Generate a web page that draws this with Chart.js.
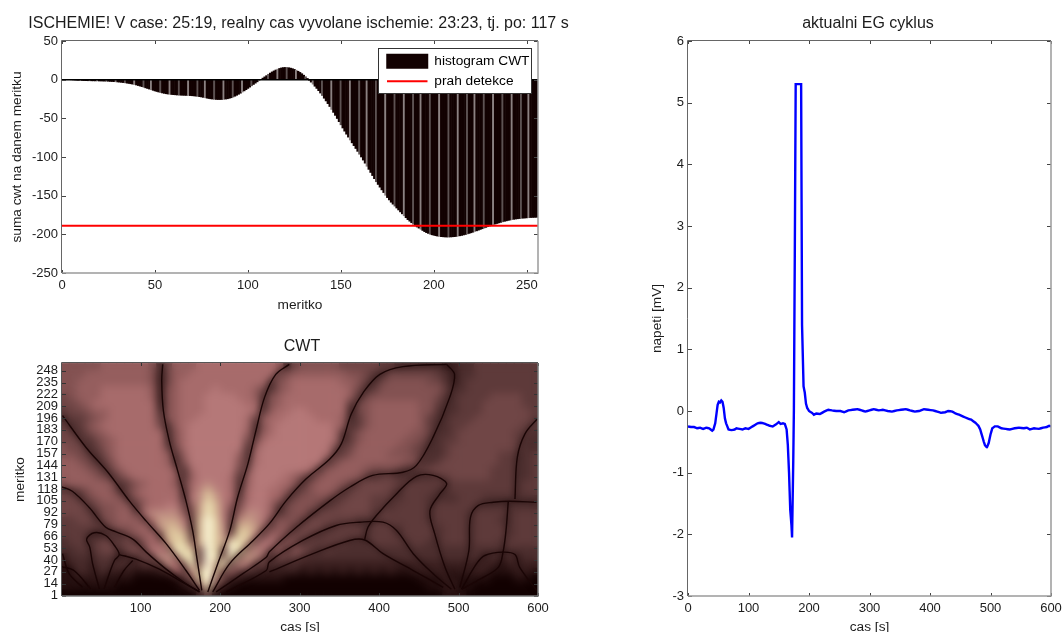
<!DOCTYPE html>
<html><head><meta charset="utf-8">
<style>html,body{margin:0;padding:0;background:#fff;overflow:hidden;width:1062px;height:632px}
.c{position:absolute}canvas{display:block}</style>
<script src="https://cdn.jsdelivr.net/npm/chart.js@4"></script>
</head><body>
<div class="c" style="left:0;top:0"><canvas id="hist" width="620" height="320"></canvas></div>
<div class="c" style="left:0;top:325px"><canvas id="cwt" width="620" height="310"></canvas></div>
<div class="c" style="left:620px;top:0"><canvas id="eg" width="442" height="640"></canvas></div>
<script>
// ---------- histogram ----------
const histValues = [0,0,0,0,-0.2,-0.3,-0.5,-0.7,-0.9,-1,-1.1,-1.2,-1.3,-1.4,-1.4,-1.5,-1.5,-1.6,-1.6,-1.7,
-1.7,-1.8,-1.9,-2,-2.1,-2.3,-2.4,-2.6,-2.8,-3,-3.2,-3.5,-3.8,-4.1,-4.5,-4.9,-5.3,-5.8,-6.3,-6.9,
-7.6,-8.3,-9,-9.8,-10.6,-11.4,-12.2,-13,-13.8,-14.6,-15.3,-16,-16.6,-17.2,-17.7,-18.2,-18.6,-18.9,-19.2,-19.4,
-19.6,-19.8,-20,-20.1,-20.2,-20.3,-20.4,-20.5,-20.6,-20.8,-21,-21.3,-21.6,-22,-22.4,-22.9,-23.4,-23.9,-24.4,-24.8,
-25.1,-25.4,-25.6,-25.7,-25.7,-25.6,-25.4,-25.1,-24.7,-24.1,-23.4,-22.5,-21.4,-20.2,-18.9,-17.5,-16,-14.5,-12.9,-11.3,
-9.6,-7.9,-6.2,-4.5,-2.8,-1.2,0.4,2,3.6,5.2,7,8.5,10,11.3,12.5,13.6,14.5,15.2,15.6,15.8,
15.7,15.4,14.9,14.2,13.3,12.2,10.9,9.4,7.7,5.8,3.8,1.6,-0.8,-3.2,-5.8,-8.5,-11.3,-14.2,-17.3,-20.5,
-24,-27.5,-31,-34.7,-38.5,-42.3,-46.2,-50.2,-54.3,-58.4,-62.5,-66.6,-70.5,-74.3,-78,-81.7,-85.3,-89,-92.7,-96.4,
-100,-104,-108,-112,-116,-120,-124,-128,-132,-135.5,-139,-142.5,-146,-149.5,-152.5,-155.5,-158.5,-161,-163.5,-166,
-168.5,-171,-173.5,-176,-178.5,-181,-183,-185,-187,-189,-190.5,-192,-193.5,-195,-196.5,-197.8,-198.8,-199.8,-200.6,-201.2,
-201.8,-202.3,-202.7,-203,-203.2,-203.4,-203.5,-203.5,-203.4,-203.2,-203,-202.7,-202.3,-201.9,-201.4,-200.8,-200.2,-199.5,-198.8,-198,
-197.2,-196.3,-195.5,-194.6,-193.7,-192.8,-191.9,-191,-190,-189.2,-188.3,-187.5,-186.7,-186,-185.2,-184.5,-183.8,-183.2,-182.6,-182,
-181.5,-181,-180.6,-180.2,-179.9,-179.6,-179.3,-179.1,-178.9,-178.7,-178.5,-178.3,-178.2,-178.1,-178,-177.9];
const seamBars = [5,10,15,19,24,29,34,39,44,48,53,58,63,68,73,77,82,87,92,97,102,106,111,116,121,126,131,135,140,145,150,155,160,164,169,174,179,184,189,193,198,203,208,213,218,222,227,232,237,242,247,251];
const threshold = -189;
const histXTicks = [0,50,100,150,200,250];
const histYTicks = [-250,-200,-150,-100,-50,0,50];

// ---------- CWT: one string per scale row (top to bottom), one level 0-f per 10 s ----------
const cwtRows = [
"6666677777 7635777888 8888888735 6666655555 4433333322 3344444444",
"6667777777 7625778888 8888888467 7777776653 3555555432 3344444444",
"6677777777 7625788888 8888883678 8888877643 5666665532 3444444444",
"6677788888 8726788889 8888753678 8888887534 6666666643 3444444444",
"5677788888 8726788899 9988736788 8888887356 6666666533 4444555544",
"5567888888 8826788899 9998836788 8888883567 7777766433 4445555544",
"4556778888 8836788899 9999837889 9888882567 7777766333 4445555554",
"3445678888 8846788999 9998478899 9988873467 7777764334 4455555554",
"4346788888 8853789999 9998368999 9999873467 7777764334 4555555544",
"5435678888 8883689999 9997378999 9999834677 7777664334 5555555443",
"5543567888 8883689999 9995589999 9999834677 7776653344 5555555433",
"6553467888 8884589999 9993799999 9999545777 7766543345 5555555433",
"6654357888 8887379999 9973899999 9998446777 7666543345 5555544334",
"7765346888 8887369999 9964899999 9993577777 7776633455 5555544334",
"7776535788 8888638999 9955999999 9836777765 5543345555 5555444334",
"7777653578 8888737999 9837999987 5367777643 4433333445 5555444334",
"6777776346 78886489a9 9837999886 3677764455 5544444434 4444444344",
"4346776357 8888838aca 9838998863 5677634555 5434444334 4444444344",
"5535677636 7888839adb 9848998735 6665345554 4434443333 4443333333",
"5553566763 7889956bec 9659997356 6643455554 4344443444 4433333333",
"5554366774 8aaaa65bec 947aa97356 6345555553 4444443444 4344443444",
"4455356777 48bbb94cfd 94aba94666 3555444334 4444443444 4344433444",
"4444435667 84acca4cfd a3ccb64763 5553444434 4434444344 4344443444",
"4443233356 784cdc4cfd a6dd938745 5434444434 4434444344 4344443444",
"3443454453 686bdd6cfd beeb499465 3444443334 4443443344 4344434444",
"3343455356 4996eec5fd 5fd5a94746 5434333333 3333333333 3333333333",
"2333343233 54aa6ee4fe 5e4ba53545 4333333333 3333333333 3332323233",
"2232333332 444a85e6fb e4a9353333 2222222222 2222222222 2222212222",
"1232232221 112384adfc 4743322222 1212121212 1211222221 2222111221",
"1121211110 0000146dfa 5221111100 0000000000 0000011121 1111000110",
"1111111000 00000139e6 2100000000 0000000000 0000001122 1100000000",
"0000000000 0000000241 0000000000 0000000000 0000000011 1000000000"
];
const cwtLevels = ["#120101","#261010","#3a1f1f","#4c2e2e","#5e3a3a","#704646","#835252","#955e5e","#a76b6b","#b57878","#bd8a80","#c9a088","#d6b894","#e3d0a4","#efe4b8","#fbf6d8"];
const cwtColumnCentres = [5,15,25,35,45,55,65,75,85,95,105,115,125,135,145,155,165,175,185,195,205,215,225,235,245,255,265,275,285,295,305,315,325,335,345,355,365,375,385,395,405,415,425,435,445,455,465,475,485,495,505,515,525,535,545,555,565,575,585,595];
const cwtRowBottoms = [248,240,232,224,216,208,200,192,184,176,168,160,152,144,136,128,120,112,104,96,88,80,72,64,56,48,40,32,24,16,8,0];
const cwtRowHeight = 8;
const cwtXTicks = [100,200,300,400,500,600];
const cwtYTicks = [1,14,27,40,53,66,79,92,105,118,131,144,157,170,183,196,209,222,235,248];
// zero-crossing curves of the transform, read as [time, scale] pairs
const ridges = [
[[127.7,255],[126.5,237],[128.6,204],[136,171],[146.6,138],[157,105],[165.5,72],[170.6,43],[176.9,6.6]],
[[1.7,198.7],[31,164],[60.5,134.6],[85.7,105],[106.7,83],[132,58],[157,28.5],[174,6.6]],
[[0,120.7],[14,115.6],[35,98],[56,76],[69,71],[90,63],[107,48.7],[132,30],[157,14],[174,5]],
[[48,8.4],[39.5,36],[36,54],[32,63],[41.6,70],[56,67],[67,56],[73,46],[67,39.5],[60.5,25],[54,8.4]],
[[73,46],[94,41],[123.5,30],[149,17.5],[174,5]],
[[90,39.5],[79,28.5],[67,10]],
[[1.7,47],[10,25],[27,10]],
[[0,33],[16,28.5],[37,8.4]],
[[184.5,5],[197,36],[212,72],[222,109],[235,146],[245,182],[256,219],[270,244],[287,255]],
[[190.7,5],[212,36],[241,61],[262,80],[283,105],[308,129],[338,151],[352.5,167.6],[365,200.5],[380,224],[401,244],[430,252.5],[485,255]],
[[195,5],[228.6,25],[258,43],[262,49],[296,76],[338,105],[363,120],[392,133],[430,136.5],[447,144],[468,175],[489,219],[495,244],[485,255]],
[[207.6,5],[258,28.5],[262,38],[304,61.5],[346,78],[375.6,81.6],[405,81.6],[422,72.4],[443,47],[468,25],[491,8]],
[[382,63],[386,76],[396.6,89],[421.8,112.7],[447,132],[468,133],[485,124],[476.5,112.7],[464,94],[470,69],[483,32],[495.4,8]],
[[262,27],[317,47],[363,61.5],[382,62],[405,47],[443,28.5],[480.7,10]],
[[501.7,10],[513,50.5],[515,87],[525,100],[543.7,103.5],[564.7,104.6],[598,103.5]],
[[562.6,104.6],[559.7,72],[556,48.7],[550,32],[527,19],[503.8,8]],
[[503.8,8],[522.7,36],[533,45],[556,48.7],[571,46],[577,32],[598.3,6.6]],
[[571,107],[574,153],[583.6,178.6],[600,196]]
];

// ---------- EG cycle ----------
const egTime = [0,5,10,15,20,25,30,35,40,42,45,47,49,51,53,55,57,59,61,63,65,67,72,77,80,85,90,95,100,105,110,115,120,125,130,135,140,145,150,153,157,160,163,165,167,169,171,172,174,175,176.5,178,187,188.5,190,191,193,195,197,200,205,208,212,218,225,232,238,245,252,258,265,272,280,287,293,300,307,315,322,330,337,345,352,360,367,375,382,390,397,405,412,418,425,430,437,442,448,455,462,468,475,480,483,486,489,491,494,497,500,503,507,512,518,525,532,540,547,555,560,565,572,580,587,593,597,600];
const egVolts = [-0.25,-0.26,-0.26,-0.28,-0.27,-0.29,-0.27,-0.28,-0.32,-0.3,-0.2,-0.05,0.1,0.15,0.14,0.17,0.15,0.05,-0.12,-0.2,-0.25,-0.3,-0.31,-0.3,-0.28,-0.29,-0.3,-0.28,-0.29,-0.26,-0.23,-0.2,-0.19,-0.2,-0.22,-0.24,-0.25,-0.22,-0.18,-0.21,-0.2,-0.21,-0.3,-0.55,-1,-1.6,-1.85,-2.05,-0.8,0,2.5,5.3,5.3,1.4,0.8,0.4,0.3,0.12,0.05,0,-0.03,-0.06,-0.04,-0.05,-0.01,0.02,0.01,0,0,-0.02,0.01,0.02,0.03,0.01,-0.01,0.01,0.03,0.01,0.02,0,-0.01,0.01,0.02,0.03,0.01,-0.01,0,0.03,0.02,0.01,-0.01,-0.03,-0.02,0,-0.01,-0.04,-0.06,-0.09,-0.12,-0.14,-0.19,-0.24,-0.3,-0.4,-0.5,-0.56,-0.59,-0.52,-0.38,-0.28,-0.25,-0.25,-0.28,-0.29,-0.3,-0.28,-0.27,-0.28,-0.27,-0.3,-0.28,-0.29,-0.27,-0.26,-0.24,-0.25];
const egXTicks = [0,100,200,300,400,500,600];
const egYTicks = [-3,-2,-1,0,1,2,3,4,5,6];

const FONT = 'Arial, "Liberation Sans", sans-serif';
const TXT = '#1c1c1c';
const TICK_SIZE = 13, LABEL_SIZE = 13.7, TITLE_SIZE = 16;
Chart.defaults.font.family = FONT;
Chart.defaults.font.size = TICK_SIZE;
Chart.defaults.color = TXT;
Chart.defaults.animation = false;
Chart.defaults.responsive = false;

// frame and MATLAB-style inward ticks on all four sides
const framePlugin = {
  id:'frame',
  afterDraw(chart){
    const {ctx,chartArea:a,scales:{x,y}} = chart;
    const o = chart.options.plugins.frame || {};
    ctx.save();
    ctx.strokeStyle = o.tick || '#444'; ctx.lineWidth = 1;
    ctx.beginPath();
    x.ticks.forEach(t=>{const p=Math.round(x.getPixelForValue(t.value))+.5;
      ctx.moveTo(p,a.top);ctx.lineTo(p,a.top+3);ctx.moveTo(p,a.bottom);ctx.lineTo(p,a.bottom-3);});
    y.ticks.forEach(t=>{const p=Math.round(y.getPixelForValue(t.value))+.5;
      ctx.moveTo(a.left,p);ctx.lineTo(a.left+4,p);ctx.moveTo(a.right,p);ctx.lineTo(a.right-4,p);});
    ctx.stroke();
    ctx.strokeStyle = o.light || '#9a9a9a'; ctx.lineWidth = 1.5;
    ctx.beginPath();ctx.moveTo(a.left,a.bottom);ctx.lineTo(a.right,a.bottom);ctx.lineTo(a.right,a.top);ctx.stroke();
    ctx.strokeStyle = o.dark || '#666'; ctx.lineWidth = 1;
    ctx.beginPath();ctx.moveTo(a.left-.5,a.bottom);ctx.lineTo(a.left-.5,a.top-.5);ctx.lineTo(a.right,a.top-.5);ctx.stroke();
    ctx.restore();
  }
};
// the titles are centred on the axes, and may run wider than them
const titleSpan = (centre,half) => ({
  id:'titleSpan',
  afterLayout(chart){ const t=chart.titleBlock; t.left=centre-half; t.right=centre+half; }
});

const baseScale = (min,max,ticks,title,o) => ({
  type:'linear',min,max,offset:false,
  grid:{display:false,drawTicks:false},border:{display:false},
  afterBuildTicks(s){s.ticks = ticks.map(v=>({value:v}));},
  ticks:{autoSkip:false,maxRotation:0,padding:o.pad,callback:v=>String(v),font:{size:TICK_SIZE},color:TXT},
  title:{display:true,text:title,font:{size:LABEL_SIZE},color:TXT,padding:o.tp},
  afterFit(s){
    if(s.isHorizontal()) s.height=o.size; else s.width=o.size;
    s.paddingLeft=s.paddingRight=s.paddingTop=s.paddingBottom=0;
  }
});
const layout = (l,r) => ({autoPadding:false,padding:{left:l,right:r,top:0,bottom:0}});

// ---------- chart 1 ----------
const legendBox = {
  id:'legendBox',
  afterLayout(chart){
    const L = chart.legend; L.left=380.6; L.right=532; L.top=48; L.bottom=130;
  },
  afterDatasetsDraw(chart){
    const ctx = chart.ctx; ctx.save();
    ctx.fillStyle='#fff'; ctx.fillRect(378,48,154,45);
    ctx.strokeStyle='#333'; ctx.lineWidth=1; ctx.strokeRect(378.5,48.5,153,45);
    ctx.restore();
    chart.legend.draw();
  }
};
const HIST = '#120101';
new Chart(document.getElementById('hist'),{
  type:'bar',
  plugins:[framePlugin,legendBox,titleSpan(298.5,298)],
  data:{datasets:[
    {label:'histogram CWT',type:'bar',order:3,
     data:histValues.map((v,i)=>({x:i+1,y:v})),
     backgroundColor:histValues.map((v,i)=>{const k=seamBars.indexOf(i+1);return k<0?HIST:(k%2?'#8b8181':'#5d5252');}),
     barPercentage:1,categoryPercentage:1,borderWidth:0},
    {label:'prah detekce',type:'line',order:1,data:[{x:0,y:threshold},{x:256,y:threshold}],borderColor:'#ff0000',borderWidth:2,pointRadius:0},
    {label:'baseline',type:'line',order:2,data:[{x:0,y:0},{x:256,y:0}],borderColor:'#000',borderWidth:1.5,pointRadius:0}
  ]},
  options:{
    layout:layout(0,82),
    scales:{
      x:baseScale(0,256,histXTicks,'meritko',{pad:5,tp:{top:0,bottom:6.6},size:47}),
      y:baseScale(-250,50,histYTicks,'suma cwt na danem meritku',{pad:4,tp:{top:9.5,bottom:0},size:62})
    },
    plugins:{
      title:{display:true,text:'ISCHEMIE! V case: 25:19, realny cas vyvolane ischemie: 23:23, tj. po: 117 s',font:{size:TITLE_SIZE,weight:'normal'},color:TXT,padding:{top:14.4,bottom:7.4}},
      legend:{position:'chartArea',align:'start',labels:{
        usePointStyle:true,pointStyleWidth:40.5,padding:6.4,font:{size:LABEL_SIZE},color:TXT,
        generateLabels(){return [
          {text:'histogram CWT',fillStyle:HIST,strokeStyle:HIST,lineWidth:1.5,pointStyle:'rect',datasetIndex:0},
          {text:'prah detekce',fillStyle:'#ff0000',strokeStyle:'#ff0000',lineWidth:2,pointStyle:'line',datasetIndex:1}
        ];}
      }},
      tooltip:{enabled:false}
    }
  }
});

// ---------- chart 2 ----------
const smoothPlugin = {
  id:'smooth',
  afterDatasetDraw(chart,args){
    if(args.index!==0) return;
    const {ctx,chartArea:a} = chart, r = chart.currentDevicePixelRatio;
    const w=Math.ceil((a.right-a.left)*r),h=Math.ceil((a.bottom-a.top)*r);
    const tmp=document.createElement('canvas');tmp.width=w;tmp.height=h;
    tmp.getContext('2d').drawImage(chart.canvas,a.left*r,a.top*r,w,h,0,0,w,h);
    ctx.save();
    ctx.beginPath();ctx.rect(a.left,a.top,a.right-a.left,a.bottom-a.top);ctx.clip();
    ctx.filter='blur(4.5px)';
    ctx.drawImage(tmp,a.left,a.top,a.right-a.left,a.bottom-a.top);
    ctx.restore();
  },
  beforeDatasetDraw(chart,args){
    if(args.index<cwtRows.length) return;
    chart.ctx.save();
    chart.ctx.shadowColor='rgba(18,1,1,.8)';chart.ctx.shadowBlur=5;
  }
};
const shadowEnd = {id:'shadowEnd',afterDatasetDraw(chart,args){ if(args.index>=cwtRows.length) chart.ctx.restore(); }};
const rowDatasets = cwtRows.map((row,r)=>{
  const cells=row.replace(/ /g,'');
  return {type:'bar',order:2,grouped:false,barPercentage:1,categoryPercentage:1,borderWidth:0,
    data:cwtColumnCentres.map(c=>({x:c,y:[cwtRowBottoms[r],cwtRowBottoms[r]+cwtRowHeight]})),
    backgroundColor:cwtColumnCentres.map((c,i)=>cwtLevels[parseInt(cells[i]||'0',16)])};
});
const ridgeDatasets = ridges.map(pts=>({type:'line',order:1,data:pts.map(p=>({x:p[0],y:p[1]})),
  borderColor:'#1a0505',borderWidth:1.4,pointRadius:0,tension:0.35}));
new Chart(document.getElementById('cwt'),{
  type:'bar',
  plugins:[smoothPlugin,shadowEnd,framePlugin,titleSpan(302,298)],
  data:{datasets:rowDatasets.concat(ridgeDatasets)},
  options:{
    layout:layout(0,82),
    scales:{
      x:baseScale(1,600,cwtXTicks,'cas [s]',{pad:5,tp:{top:0,bottom:0},size:39}),
      y:baseScale(0.5,256.5,cwtYTicks,'meritko',{pad:4,tp:{top:12.5,bottom:0},size:62})
    },
    plugins:{
      frame:{dark:'#555',light:'#777',tick:'#333'},
      title:{display:true,text:'CWT',font:{size:TITLE_SIZE,weight:'normal'},color:TXT,padding:{top:12.4,bottom:6.4}},
      legend:{display:false},tooltip:{enabled:false}
    }
  }
});

// ---------- chart 3 ----------
new Chart(document.getElementById('eg'),{
  type:'line',
  plugins:[framePlugin,titleSpan(248,190)],
  data:{datasets:[{label:'aktualni EG cyklus',data:egTime.map((t,i)=>({x:t,y:egVolts[i]})),borderColor:'#0000ff',borderWidth:2.4,pointRadius:0,tension:0.001}]},
  options:{
    layout:layout(0,11),
    scales:{
      x:baseScale(0,600,egXTicks,'cas [s]',{pad:5,tp:{top:0,bottom:5},size:44}),
      y:baseScale(-3,6,egYTicks,'napeti [mV]',{pad:4,tp:{top:29.5,bottom:0},size:68})
    },
    plugins:{
      title:{display:true,text:'aktualni EG cyklus',font:{size:TITLE_SIZE,weight:'normal'},color:TXT,padding:{top:14.4,bottom:7.4}},
      legend:{display:false},tooltip:{enabled:false}
    }
  }
});
</script>
</body></html>
